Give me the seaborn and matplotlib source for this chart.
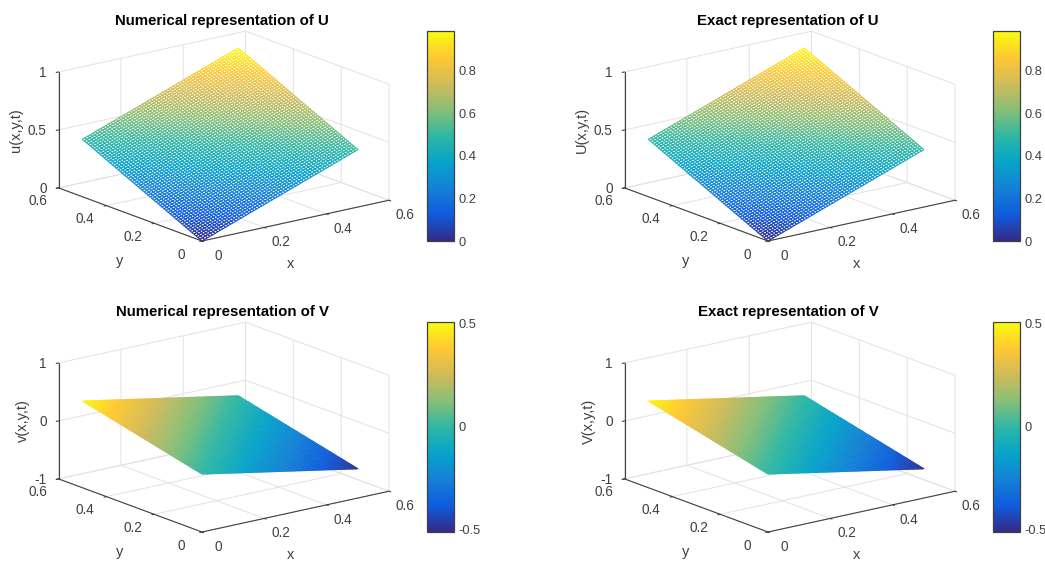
import matplotlib
matplotlib.use("Agg")
import matplotlib.pyplot as plt
import numpy as np
import seaborn as sns
from matplotlib.cm import ScalarMappable
from matplotlib.colors import Normalize
from mpl_toolkits.mplot3d import proj3d

# mesh nodes along x and along y
mesh = [
    0.0000, 0.0083, 0.0167, 0.0250, 0.0333, 0.0417, 0.0500, 0.0583, 0.0667, 0.0750,
    0.0833, 0.0917, 0.1000, 0.1083, 0.1167, 0.1250, 0.1333, 0.1417, 0.1500, 0.1583,
    0.1667, 0.1750, 0.1833, 0.1917, 0.2000, 0.2083, 0.2167, 0.2250, 0.2333, 0.2417,
    0.2500, 0.2583, 0.2667, 0.2750, 0.2833, 0.2917, 0.3000, 0.3083, 0.3167, 0.3250,
    0.3333, 0.3417, 0.3500, 0.3583, 0.3667, 0.3750, 0.3833, 0.3917, 0.4000, 0.4083,
    0.4167, 0.4250, 0.4333, 0.4417, 0.4500, 0.4583, 0.4667, 0.4750, 0.4833, 0.4917,
    0.5000,
]
# heights read along the front edge y=0, the surfaces are flat so they add up
u_edge = [
    0.000, 0.008, 0.017, 0.025, 0.033, 0.041, 0.050, 0.058, 0.066, 0.074,
    0.083, 0.091, 0.099, 0.107, 0.116, 0.124, 0.132, 0.140, 0.149, 0.157,
    0.165, 0.173, 0.182, 0.190, 0.198, 0.206, 0.215, 0.223, 0.231, 0.239,
    0.248, 0.256, 0.264, 0.272, 0.281, 0.289, 0.297, 0.305, 0.314, 0.322,
    0.330, 0.338, 0.347, 0.355, 0.363, 0.371, 0.380, 0.388, 0.396, 0.404,
    0.413, 0.421, 0.429, 0.437, 0.446, 0.454, 0.462, 0.470, 0.479, 0.487,
    0.495,
]
v_edge = [
    0.000, -0.008, -0.017, -0.025, -0.033, -0.041, -0.050, -0.058, -0.066, -0.074,
    -0.083, -0.091, -0.099, -0.107, -0.116, -0.124, -0.132, -0.140, -0.149, -0.157,
    -0.165, -0.173, -0.182, -0.190, -0.198, -0.206, -0.215, -0.223, -0.231, -0.239,
    -0.248, -0.256, -0.264, -0.272, -0.281, -0.289, -0.297, -0.305, -0.314, -0.322,
    -0.330, -0.338, -0.347, -0.355, -0.363, -0.371, -0.380, -0.388, -0.396, -0.404,
    -0.413, -0.421, -0.429, -0.437, -0.446, -0.454, -0.462, -0.470, -0.479, -0.487,
    -0.495,
]

xy_ticks = [0, 0.2, 0.4, 0.6]
xy_labels = ["0", "0.2", "0.4", "0.6"]
u_zticks = [0, 0.5, 1]
u_zlabels = ["0", "0.5", "1"]
v_zticks = [-1, 0, 1]
v_zlabels = ["-1", "0", "1"]
u_limits = [0, 0.988]
v_limits = [-0.51, 0.505]
u_bar_ticks = [0, 0.2, 0.4, 0.6, 0.8]
u_bar_labels = ["0", "0.2", "0.4", "0.6", "0.8"]
v_bar_ticks = [-0.5, 0, 0.5]
v_bar_labels = ["-0.5", "0", "0.5"]
parula = ["#352a87", "#0f5cdd", "#1481d6", "#06a4ca", "#2eb7a4",
          "#87bf77", "#d1bb59", "#fec832", "#f9fb0e"]

W, H = 1045, 561
TEXT = "#404040"

sns.set_style("white")
plt.rcParams["font.family"] = ["Liberation Sans", "DejaVu Sans"]
cmap = sns.blend_palette(parula, as_cmap=True)

x_grid, y_grid = np.meshgrid(mesh, mesh, indexing="ij")
u_surface = np.add.outer(u_edge, u_edge)
v_surface = np.subtract.outer(v_edge, v_edge)


def fit_box(fig, ax, floor, front_px, right_px):
    # move and scale the square axes so the floor corners land on these pixels
    def to_px(x, y):
        px, py, _ = proj3d.proj_transform(x, y, floor, ax.get_proj())
        return ax.transData.transform((px, py))

    ax.apply_aspect()
    box = ax.get_position().transformed(fig.transFigure)
    p0 = to_px(0, 0)
    p1 = to_px(0.6, 0)
    scale = (right_px[0] - front_px[0]) / (p1[0] - p0[0])
    ax_frac = (p0 - box.p0) / box.width
    side = box.width * scale
    left = front_px[0] - ax_frac[0] * side
    bottom = (H - front_px[1]) - ax_frac[1] * side
    ax.set_position([left / W, bottom / H, side / W, side / H])


def label_at(fig, px, py, text, **kw):
    fig.text(px / W, 1 - py / H, text, ha="center", va="center", **kw)


def draw_panel(fig, dx, dy, z, limits, zticks, zlabels, bar_ticks, bar_labels, title, zlabel, zlabel_x):
    ax = fig.add_axes([0.1, 0.1, 400 / W, 400 / H], projection="3d", proj_type="ortho")
    ax.patch.set_visible(False)
    ax.view_init(elev=16.5, azim=-127.5)
    ax.set_box_aspect((1, 1, 0.513), zoom=1)

    norm = Normalize(*limits)
    surf = ax.plot_surface(x_grid, y_grid, z, rstride=1, cstride=1, color="white",
                           shade=False, linewidth=0.8, antialiased=True)
    cell_z = (z[:-1, :-1] + z[1:, 1:]) / 2
    surf.set_edgecolor(cmap(norm(cell_z.ravel())))

    ax.set_xlim(0, 0.6)
    ax.set_ylim(0, 0.6)
    ax.set_zlim(zticks[0], zticks[-1])
    ax.set_xticks(xy_ticks, xy_labels)
    ax.set_yticks(xy_ticks, xy_labels)
    ax.set_zticks(zticks, [""] * len(zticks))
    ax.zaxis.set_ticks_position("upper")
    ax.tick_params(axis="x", colors=TEXT, labelsize=9.8, pad=6.5)
    ax.tick_params(axis="y", colors=TEXT, labelsize=9.8, pad=6.5)
    ax.tick_params(axis="z", colors=TEXT)
    plt.setp(ax.xaxis.get_ticklabels(), va="baseline")
    plt.setp(ax.yaxis.get_ticklabels(), va="baseline")

    # z labels sit right aligned against the left vertical edge
    for tick, text in zip(zticks, zlabels):
        px, py, _ = proj3d.proj_transform(0, 0.6, tick, ax.get_proj())
        ax.annotate(text, (px, py), xytext=(-8.6, -1), textcoords="offset points",
                    ha="right", va="center", fontsize=9.8, color=TEXT, annotation_clip=False)

    for axis in (ax.xaxis, ax.yaxis, ax.zaxis):
        axis.set_pane_color((1, 1, 1, 0))
        axis.pane.set_edgecolor("#dcdcdc")
        axis.pane.set_linewidth(0.7)
        axis.line.set_color(TEXT)
        axis.line.set_linewidth(0.8)
        axis._axinfo["grid"].update(color="#e2e2e2", linewidth=0.7)
        axis._axinfo["tick"].update(inward_factor=0.15, outward_factor=0.0)

    fit_box(fig, ax, zticks[0], (202 + dx, 241 + dy), (389 + dx, 200 + dy))

    label_at(fig, 222 + dx, 21 + dy, title, fontweight="bold", fontsize=10.8, color="black")
    label_at(fig, 291 + dx, 264 + dy, "x", fontsize=10.5, color=TEXT)
    label_at(fig, 120 + dx, 261 + dy, "y", fontsize=10.5, color=TEXT)
    label_at(fig, zlabel_x + dx, 130 + dy, zlabel, rotation=90, fontsize=10.5, color=TEXT)

    cax = fig.add_axes([(427 + dx) / W, 1 - (241 + dy) / H, 27 / W, 210 / H])
    cbar = fig.colorbar(ScalarMappable(norm=norm, cmap=cmap), cax=cax)
    cbar.set_ticks(bar_ticks, labels=bar_labels)
    cbar.ax.tick_params(direction="in", length=3, width=0.8, colors=TEXT, labelsize=9.3, pad=3.2)
    cbar.outline.set_edgecolor(TEXT)
    cbar.outline.set_linewidth(0.9)


fig = plt.figure(figsize=(W / 100, H / 100), dpi=100)
draw_panel(fig, 0, 0, u_surface, u_limits, u_zticks, u_zlabels, u_bar_ticks, u_bar_labels,
           "Numerical representation of U", "u(x,y,t)", 16)
draw_panel(fig, 566, 0, u_surface, u_limits, u_zticks, u_zlabels, u_bar_ticks, u_bar_labels,
           "Exact representation of U", "U(x,y,t)", 16)
draw_panel(fig, 0, 291, v_surface, v_limits, v_zticks, v_zlabels, v_bar_ticks, v_bar_labels,
           "Numerical representation of V", "v(x,y,t)", 23)
draw_panel(fig, 566, 291, v_surface, v_limits, v_zticks, v_zlabels, v_bar_ticks, v_bar_labels,
           "Exact representation of V", "V(x,y,t)", 23)
fig.savefig("out.png", dpi=100)
plt.close(fig)
